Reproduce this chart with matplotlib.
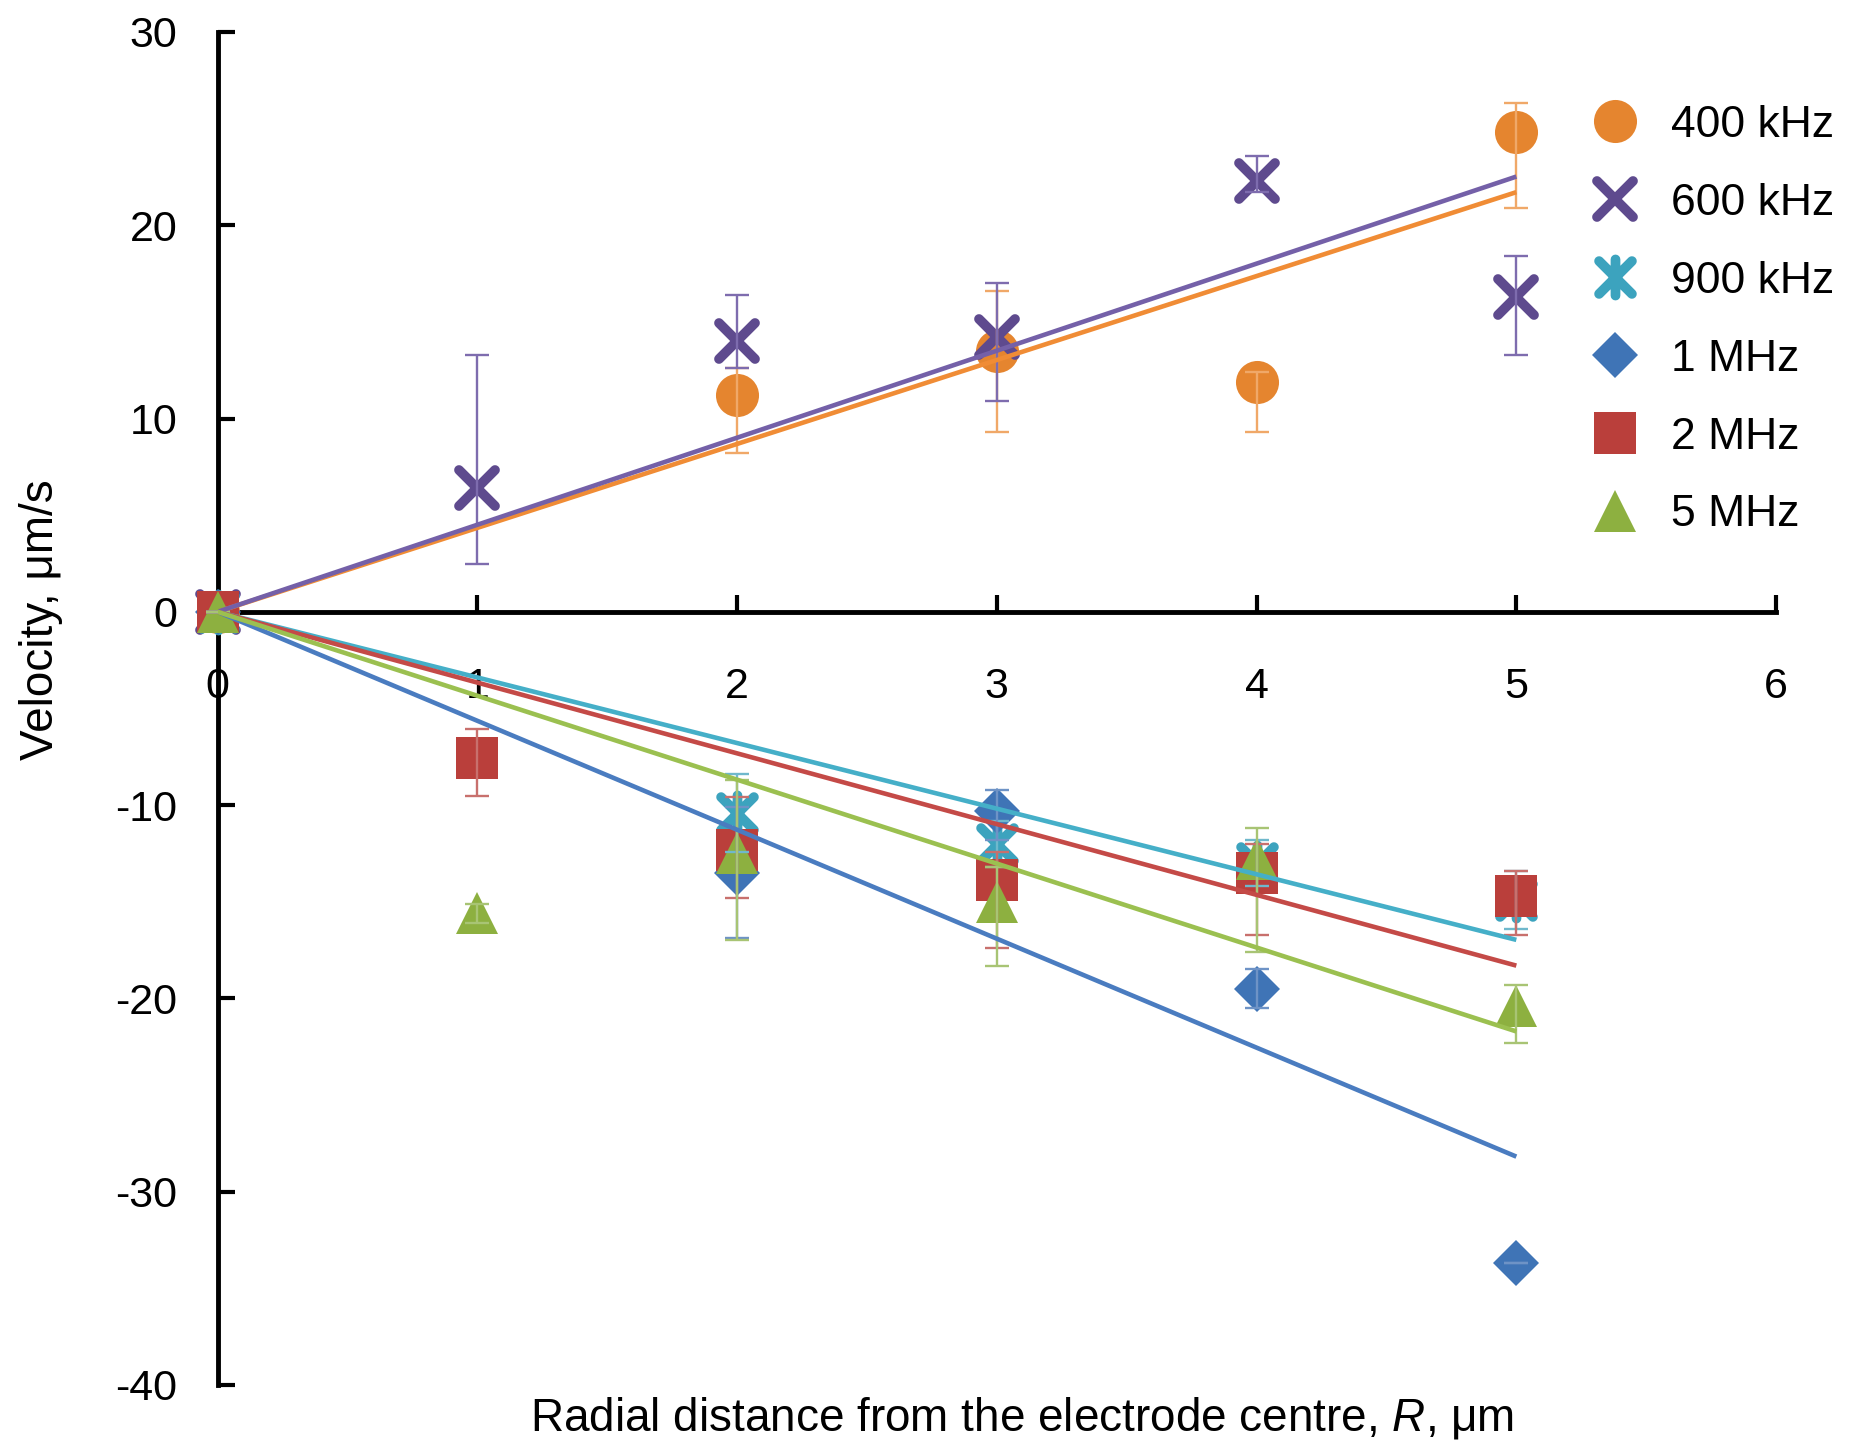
import numpy as np
import matplotlib
matplotlib.use("Agg")
import matplotlib.pyplot as plt
from matplotlib.markers import MarkerStyle
from matplotlib.path import Path

plt.rcParams['font.family'] = ['Liberation Sans', 'DejaVu Sans']
plt.rcParams['mathtext.fontset'] = 'custom'
plt.rcParams['mathtext.rm'] = 'Liberation Sans'
plt.rcParams['mathtext.it'] = 'Liberation Sans:italic'

# ---------------- data ----------------
nan = np.nan
R = [0, 1, 2, 3, 4, 5]
series_names = ["400 kHz", "600 kHz", "900 kHz", "1 MHz", "2 MHz", "5 MHz"]

v400 = [0, nan, 11.2, 13.5, 11.9, 24.8]
v400_lo = [0, nan, 3.0, 4.2, 2.6, 3.9]
v400_hi = [0, nan, 1.4, 3.1, 0.5, 1.5]

v600 = [0, 6.4, 14.0, 14.2, 22.3, 16.3]
v600_lo = [0, 3.9, 1.4, 3.3, 0.6, 3.0]
v600_hi = [0, 6.9, 2.4, 2.8, 1.3, 2.1]

v900 = [0, nan, -10.4, -12.0, -13.0, -14.9]
v900_lo = [0, nan, 2.0, 1.2, 1.2, 1.5]
v900_hi = [0, nan, 2.0, 1.2, 1.2, 1.5]

v1M = [0, nan, -13.5, -10.3, -19.5, -33.7]
v1M_lo = [0, nan, 3.4, 1.5, 1.0, 0.0]
v1M_hi = [0, nan, 3.4, 1.1, 1.0, 0.0]

v2M = [0, -7.55, -12.3, -13.9, -13.5, -14.7]
v2M_lo = [0, 2.0, 2.5, 3.5, 3.2, 2.0]
v2M_hi = [0, 1.5, 2.7, 1.5, 1.5, 1.3]

v5M = [0, -15.6, -12.5, -15.0, -12.8, -20.4]
v5M_lo = [0, 0.5, 4.5, 3.3, 4.8, 1.9]
v5M_hi = [0, 0.5, 3.8, 1.8, 1.6, 1.1]

x_ticks = [0, 1, 2, 3, 4, 5, 6]
y_ticks = [-40, -30, -20, -10, 0, 10, 20, 30]

# ---------------- styles ----------------
marker_colors = ['#E5852F', '#5E4A8E', '#3CA3BE', '#3F74B6', '#BA3F3B', '#8DB040']
line_colors = ['#F08C35', '#7460A8', '#45AFC8', '#4A7CC0', '#C44A47', '#9BC050']
err_colors = ['#F0A868', '#7E6CAE', '#6FB8CC', '#6E93C6', '#C8706D', '#A8C474']

star_path = Path([(-0.5, -0.5), (0.5, 0.5), (-0.5, 0.5), (0.5, -0.5), (0, -0.55), (0, 0.55)],
                 [Path.MOVETO, Path.LINETO, Path.MOVETO, Path.LINETO, Path.MOVETO, Path.LINETO])

markers = [
    dict(marker='o', ms=31, mfc=marker_colors[0], mec=marker_colors[0], mew=0),
    dict(marker=MarkerStyle('x', capstyle='round'), ms=26, mec=marker_colors[1], mew=7),
    dict(marker=MarkerStyle(star_path, capstyle='round'), ms=26, mec=marker_colors[2], mew=7),
    dict(marker='D', ms=23, mfc=marker_colors[3], mec=marker_colors[3], mew=0),
    dict(marker='s', ms=30, mfc=marker_colors[4], mec=marker_colors[4], mew=0),
    dict(marker='^', ms=30, mfc=marker_colors[5], mec=marker_colors[5], mew=0),
]

vals = [v400, v600, v900, v1M, v2M, v5M]
los = [v400_lo, v600_lo, v900_lo, v1M_lo, v2M_lo, v5M_lo]
his = [v400_hi, v600_hi, v900_hi, v1M_hi, v2M_hi, v5M_hi]

# ---------------- figure ----------------
fig = plt.figure(figsize=(18.53, 14.46), dpi=100)
ax = fig.add_axes([0.1174, 0.0422, 0.8411, 0.9357])
ax.set_xlim(0, 6)
ax.set_ylim(-40, 30)

xr = np.array(R, dtype=float)
handles = []
for i in range(6):
    y = np.array(vals[i], dtype=float)
    lo = np.array(los[i], dtype=float)
    hi = np.array(his[i], dtype=float)
    h, = ax.plot(xr, y, linestyle='none', label=series_names[i], zorder=3 + i * 0.01,
                 clip_on=False, **markers[i])
    handles.append(h)
    m = ~np.isnan(y)
    ax.errorbar(xr[m], y[m], yerr=[lo[m], hi[m]], fmt='none', ecolor=err_colors[i],
                elinewidth=1.7, capsize=8.3, capthick=1.7, zorder=4, clip_on=False)
    # linear trendline forced through origin
    slope = np.sum(xr[m] * y[m]) / np.sum(xr[m] ** 2)
    xl = np.array([0, xr[m].max()])
    ax.plot(xl, slope * xl, color=line_colors[i], lw=3.3, zorder=5, solid_capstyle='butt')

# axes styling
for s in ['top', 'right']:
    ax.spines[s].set_visible(False)
ax.spines['bottom'].set_position(('data', 0))
ax.spines['left'].set_linewidth(3.5)
ax.spines['bottom'].set_linewidth(3.5)
ax.set_xticks(x_ticks)
ax.set_yticks(y_ticks)
ax.set_xticklabels([str(t) for t in x_ticks])
ax.set_yticklabels([str(t) for t in y_ticks])
ax.tick_params(direction='in', length=12, width=3, labelsize=31, colors='black')
ax.tick_params(axis='x', pad=40)
ax.tick_params(axis='y', pad=29)
ax.set_facecolor('white')

fig.text(1022 / 1853, 1 - 1418 / 1446, "Radial distance from the electrode centre, $\\it{R}$, μm",
         ha='center', va='center', fontsize=33)
fig.text(41 / 1853, 1 - 620 / 1446, "Velocity, μm/s", rotation=90,
         ha='center', va='center', fontsize=33)

leg = ax.legend(handles=handles, loc='upper left', bbox_to_anchor=(1593 / 1853, 1 - 105 / 1446),
                bbox_transform=fig.transFigure, frameon=False, fontsize=32,
                handlelength=1.0, handletextpad=0.75, labelspacing=0.83,
                borderpad=0, borderaxespad=0, numpoints=1)

fig.savefig("out.png", dpi=100, facecolor='white')
